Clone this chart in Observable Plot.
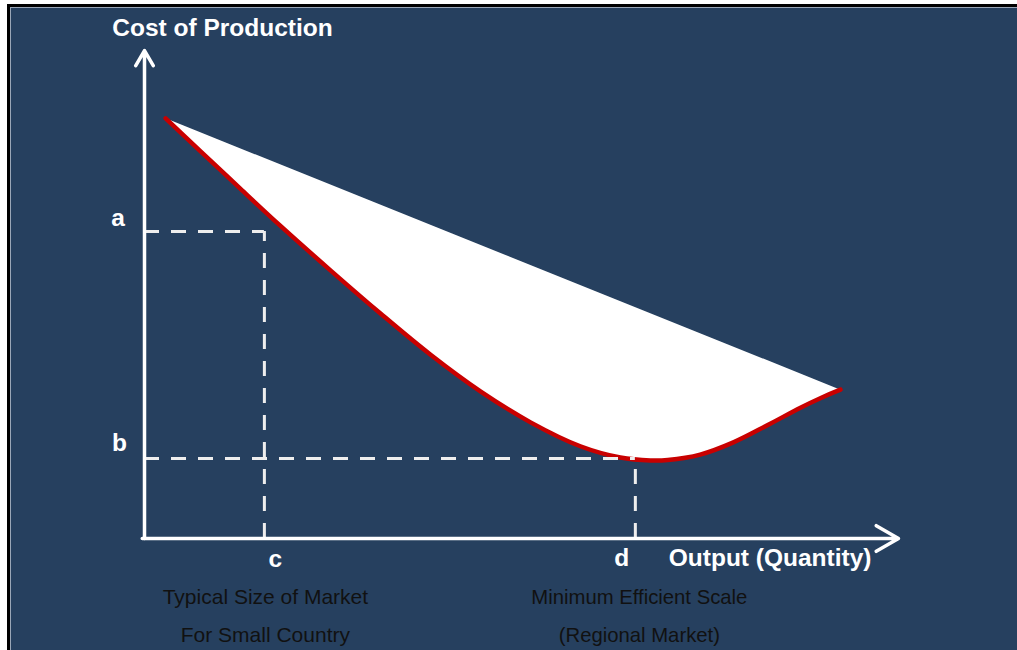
<!DOCTYPE html>
<html>
<head>
<meta charset="utf-8">
<script src="https://cdn.jsdelivr.net/npm/d3@7"></script>
<script src="https://cdn.jsdelivr.net/npm/@observablehq/plot@0.6"></script>
<style>
  html, body { margin: 0; padding: 0; width: 1017px; height: 650px; overflow: hidden; background: #fff; }
  #frame { position: absolute; left: 7px; top: 4px; right: 0; bottom: 0;
           border-left: 3px solid #000; border-top: 3px solid #000; }
  #panel { position: absolute; inset: 0; background: #26405f;
           border-left: 1px solid #9aa6b6; border-top: 1px solid #9aa6b6; }
  #chart { position: absolute; left: 0; top: 0; }
</style>
</head>
<body>
<div id="frame"><div id="panel"></div></div>
<div id="chart"></div>
<script>
// Long-run average cost curve (output on x, unit cost on y)
const output = [2.8, 7.4, 12.7, 18.0, 24.7, 31.3, 37.9, 44.6, 51.2, 57.8, 63.1, 67.1, 69.4, 73.7, 78.1, 82.6, 87.0, 89.7, 92.3];
const cost   = [86.1, 79.4, 71.7, 64.1, 54.9, 46.1, 37.7, 30.1, 23.8, 18.9, 16.6, 16.0, 16.1, 17.2, 19.7, 23.2, 26.8, 28.8, 30.5];

// Reference levels: a/b on the cost axis, c/d on the output axis
const costLevels = [62.9, 16.4];
const costLabels = ["a", "b"];
const outputLevels = [15.9, 65.1];
const outputLabels = ["c", "d"];

// Explanatory notes under c and d
const noteLine1 = ["Typical Size of Market", "Minimum Efficient Scale"];
const noteLine2 = ["For Small Country", "(Regional Market)"];

const curve = output.map((x, i) => ({x, y: cost[i]}));
const guides = costLevels.map((y, i) => ({y, x: outputLevels[i]}));

const boldText = {fill: "#fff", fontWeight: "bold", fontSize: 24.5, lineAnchor: "bottom"};
const noteText = {fill: "#111", fontSize: 21, lineAnchor: "bottom", textAnchor: "middle"};

const chart = Plot.plot({
  width: 1017,
  height: 650,
  marginLeft: 144,
  marginRight: 119,
  marginTop: 50,
  marginBottom: 112,
  style: {background: "transparent", fontFamily: "'Liberation Sans', Arial, sans-serif", overflow: "visible"},
  x: {domain: [0, 100], axis: null},
  y: {domain: [0, 100], axis: null},
  marks: [
    // white region between the chord and the cost curve
    Plot.line(curve, {x: "x", y: "y", fill: "white", stroke: "none", curve: "catmull-rom"}),
    Plot.line(curve, {x: "x", y: "y", stroke: "#c80000", strokeWidth: 4.5, curve: "catmull-rom"}),
    // dashed guides
    Plot.ruleY(guides, {y: "y", x1: 0, x2: "x", stroke: "#eee", strokeWidth: 3, strokeDasharray: "15,12"}),
    Plot.ruleX(guides, {x: "x", y1: 0, y2: "y", stroke: "#eee", strokeWidth: 3, strokeDasharray: "15,12"}),
    // axes with arrowheads
    Plot.arrow([0], {x1: 0, y1: 0, x2: 0, y2: 100, stroke: "white", strokeWidth: 3.5, headLength: 7.5}),
    Plot.arrow([0], {x1: -0.3, y1: 0, x2: 100, y2: 0, stroke: "white", strokeWidth: 3.5, headLength: 11}),
    // axis titles
    Plot.text(["Cost of Production"], {x: 0, y: 100, text: d => d, ...boldText, textAnchor: "middle", dx: 78, dy: -15}),
    Plot.text(["Output (Quantity)"], {x: 100, y: 0, text: d => d, ...boldText, textAnchor: "end", dx: -27, dy: 27}),
    // level letters
    Plot.text([0], {x: 0, y: costLevels[0], text: [costLabels[0]], ...boldText, textAnchor: "middle", dx: -26.5, dy: -6}),
    Plot.text([0], {x: 0, y: costLevels[1], text: [costLabels[1]], ...boldText, textAnchor: "middle", dx: -25, dy: -7}),
    Plot.text([0], {x: outputLevels[0], y: 0, text: [outputLabels[0]], ...boldText, textAnchor: "middle", dx: 11, dy: 28}),
    Plot.text([0], {x: outputLevels[1], y: 0, text: [outputLabels[1]], ...boldText, textAnchor: "middle", dx: -13.5, dy: 27}),
    // notes
    Plot.text([0], {x: outputLevels[0], y: 0, text: [noteLine1[0]], ...noteText, dx: 1, dy: 65}),
    Plot.text([0], {x: outputLevels[0], y: 0, text: [noteLine2[0]], ...noteText, dx: 1, dy: 103}),
    Plot.text([0], {x: outputLevels[1], y: 0, text: [noteLine1[1]], ...noteText, fontSize: 20.3, dx: 4, dy: 65}),
    Plot.text([0], {x: outputLevels[1], y: 0, text: [noteLine2[1]], ...noteText, fontSize: 20.3, dx: 4, dy: 103})
  ]
});
document.getElementById("chart").append(chart);
</script>
</body>
</html>
